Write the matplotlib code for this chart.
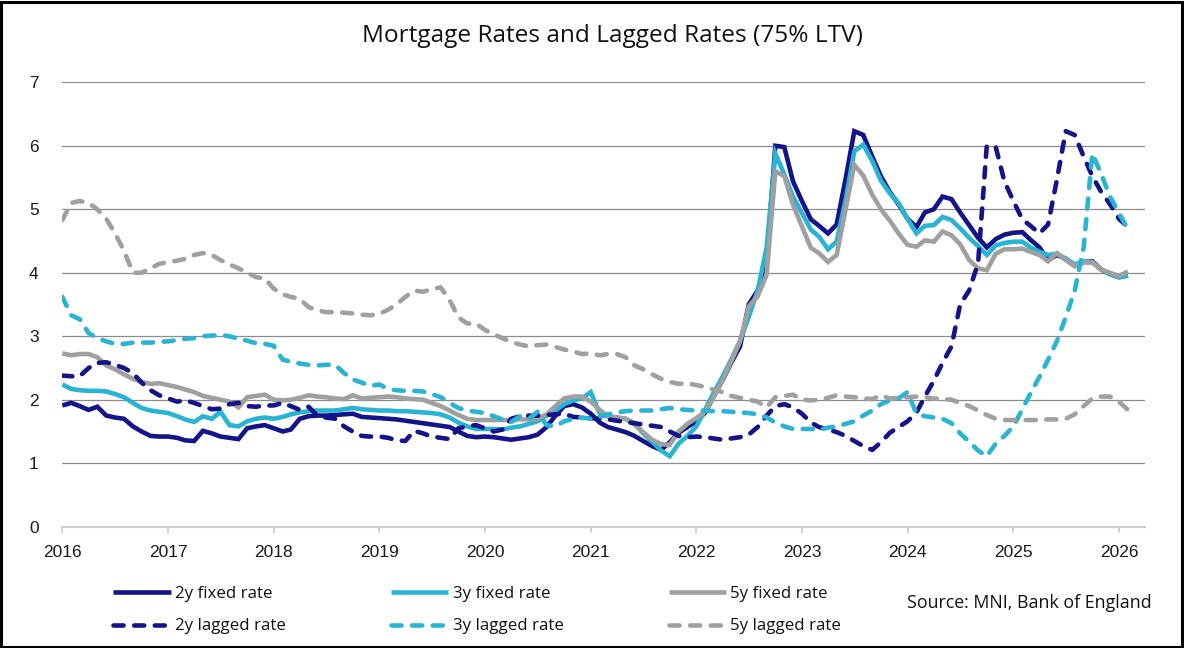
import matplotlib
matplotlib.use("Agg")
import matplotlib.pyplot as plt
import pandas as pd
from matplotlib.patches import Rectangle

# ---------------- data (monthly, Jan 2016 - Feb 2026) ----------------
start_month = "2016-01-01"
n_months = 122

fix2 = [1.91, 1.95, 1.90, 1.84, 1.89, 1.75, 1.72, 1.70, 1.58, 1.50, 1.43, 1.42,
        1.42, 1.40, 1.36, 1.35, 1.51, 1.47, 1.42, 1.40, 1.38, 1.55, 1.58, 1.60,
        1.55, 1.50, 1.53, 1.70, 1.74, 1.75, 1.75, 1.76, 1.77, 1.78, 1.73, 1.72,
        1.71, 1.70, 1.69, 1.67, 1.65, 1.63, 1.61, 1.59, 1.57, 1.50, 1.43, 1.41,
        1.42, 1.41, 1.39, 1.37, 1.39, 1.41, 1.45, 1.57, 1.75, 1.90, 1.93, 1.88,
        1.78, 1.64, 1.57, 1.53, 1.49, 1.43, 1.35, 1.27, 1.21, 1.33, 1.48, 1.57,
        1.66, 1.80, 2.05, 2.30, 2.58, 2.84, 3.50, 3.72, 4.15, 6.00, 5.98, 5.44,
        5.13, 4.84, 4.74, 4.62, 4.76, 5.48, 6.23, 6.17, 5.83, 5.52, 5.27, 5.08,
        4.85, 4.72, 4.95, 5.00, 5.20, 5.16, 4.95, 4.75, 4.55, 4.40, 4.53, 4.60,
        4.63, 4.64, 4.52, 4.40, 4.20, 4.28, 4.22, 4.12, 4.17, 4.18, 4.05, 3.98,
        3.93, 3.96]

fix3 = [2.24, 2.17, 2.15, 2.14, 2.14, 2.13, 2.09, 2.04, 1.95, 1.87, 1.83, 1.81,
        1.79, 1.74, 1.69, 1.65, 1.74, 1.70, 1.81, 1.60, 1.58, 1.66, 1.70, 1.72,
        1.70, 1.73, 1.77, 1.80, 1.82, 1.83, 1.83, 1.83, 1.85, 1.87, 1.85, 1.84,
        1.83, 1.83, 1.82, 1.82, 1.81, 1.80, 1.79, 1.77, 1.72, 1.64, 1.58, 1.54,
        1.54, 1.54, 1.53, 1.56, 1.58, 1.62, 1.66, 1.75, 1.83, 1.93, 1.99, 2.02,
        2.12, 1.78, 1.74, 1.72, 1.70, 1.63, 1.47, 1.34, 1.20, 1.11, 1.31, 1.43,
        1.58, 1.85, 2.10, 2.36, 2.63, 2.93, 3.30, 3.72, 4.40, 5.88, 5.55, 5.20,
        4.94, 4.68, 4.57, 4.37, 4.49, 5.15, 5.91, 6.02, 5.76, 5.45, 5.25, 5.10,
        4.85, 4.62, 4.74, 4.75, 4.88, 4.83, 4.70, 4.55, 4.42, 4.28, 4.43, 4.47,
        4.49, 4.49, 4.40, 4.33, 4.28, 4.30, 4.22, 4.13, 4.18, 4.17, 4.05, 3.98,
        3.93, 3.95]

fix5 = [2.73, 2.70, 2.72, 2.72, 2.67, 2.54, 2.48, 2.40, 2.33, 2.28, 2.25, 2.26,
        2.23, 2.20, 2.16, 2.12, 2.06, 2.03, 2.00, 1.97, 1.88, 2.04, 2.06, 2.08,
        2.00, 1.99, 2.00, 2.03, 2.07, 2.05, 2.04, 2.02, 2.01, 2.07, 2.02, 2.03,
        2.04, 2.05, 2.04, 2.02, 2.01, 2.00, 1.95, 1.90, 1.83, 1.76, 1.70, 1.68,
        1.68, 1.68, 1.68, 1.68, 1.69, 1.69, 1.70, 1.77, 1.90, 2.02, 2.05, 2.05,
        1.97, 1.84, 1.74, 1.72, 1.70, 1.61, 1.49, 1.37, 1.30, 1.29, 1.50, 1.62,
        1.71, 1.82, 2.03, 2.30, 2.60, 2.92, 3.47, 3.63, 3.97, 5.60, 5.52, 5.07,
        4.73, 4.39, 4.31, 4.17, 4.28, 5.00, 5.70, 5.53, 5.23, 5.00, 4.82, 4.62,
        4.44, 4.41, 4.51, 4.49, 4.65, 4.59, 4.45, 4.20, 4.07, 4.04, 4.30, 4.37,
        4.37, 4.38, 4.33, 4.28, 4.18, 4.31, 4.20, 4.10, 4.16, 4.16, 4.05, 4.00,
        3.95, 4.02]

lag2 = [2.38, 2.37, 2.37, 2.50, 2.58, 2.59, 2.55, 2.50, 2.42, 2.27, 2.15, 2.07,
        2.02, 1.97, 1.99, 1.95, 1.90, 1.85, 1.86, 1.93, 1.95, 1.90, 1.89, 1.91,
        1.91, 1.95, 1.90, 1.84, 1.89, 1.75, 1.72, 1.70, 1.58, 1.50, 1.43, 1.42,
        1.42, 1.40, 1.36, 1.35, 1.51, 1.47, 1.42, 1.40, 1.38, 1.55, 1.58, 1.60,
        1.55, 1.50, 1.53, 1.70, 1.74, 1.75, 1.75, 1.76, 1.77, 1.78, 1.73, 1.72,
        1.71, 1.70, 1.69, 1.67, 1.65, 1.63, 1.61, 1.59, 1.57, 1.50, 1.43, 1.41,
        1.42, 1.41, 1.39, 1.37, 1.39, 1.41, 1.45, 1.57, 1.75, 1.90, 1.93, 1.88,
        1.78, 1.64, 1.57, 1.53, 1.49, 1.43, 1.35, 1.27, 1.21, 1.33, 1.48, 1.57,
        1.66, 1.80, 2.05, 2.30, 2.58, 2.84, 3.50, 3.72, 4.15, 6.00, 5.98, 5.44,
        5.13, 4.84, 4.74, 4.62, 4.76, 5.48, 6.23, 6.17, 5.83, 5.52, 5.27, 5.08,
        4.85, 4.72]

lag3 = [3.62, 3.33, 3.27, 3.05, 2.97, 2.92, 2.88, 2.88, 2.90, 2.90, 2.90, 2.91,
        2.92, 2.94, 2.96, 2.97, 3.00, 3.01, 3.02, 3.00, 2.96, 2.93, 2.89, 2.88,
        2.85, 2.63, 2.60, 2.57, 2.55, 2.54, 2.55, 2.55, 2.42, 2.32, 2.27, 2.22,
        2.24, 2.17, 2.15, 2.14, 2.14, 2.13, 2.09, 2.04, 1.95, 1.87, 1.83, 1.81,
        1.79, 1.74, 1.69, 1.65, 1.74, 1.70, 1.81, 1.60, 1.58, 1.66, 1.70, 1.72,
        1.70, 1.73, 1.77, 1.80, 1.82, 1.83, 1.83, 1.83, 1.85, 1.87, 1.85, 1.84,
        1.83, 1.83, 1.82, 1.82, 1.81, 1.80, 1.79, 1.77, 1.72, 1.64, 1.58, 1.54,
        1.54, 1.54, 1.53, 1.56, 1.58, 1.62, 1.66, 1.75, 1.83, 1.93, 1.99, 2.02,
        2.12, 1.78, 1.74, 1.72, 1.70, 1.63, 1.47, 1.34, 1.20, 1.11, 1.31, 1.43,
        1.58, 1.85, 2.10, 2.36, 2.63, 2.93, 3.30, 3.72, 4.40, 5.88, 5.55, 5.20,
        4.94, 4.68]

lag5 = [4.83, 5.10, 5.13, 5.10, 5.00, 4.85, 4.62, 4.35, 4.00, 4.00, 4.07, 4.14,
        4.17, 4.19, 4.22, 4.28, 4.31, 4.28, 4.20, 4.13, 4.07, 4.00, 3.93, 3.91,
        3.75, 3.66, 3.62, 3.59, 3.46, 3.41, 3.38, 3.38, 3.37, 3.36, 3.34, 3.33,
        3.35, 3.42, 3.50, 3.62, 3.72, 3.70, 3.74, 3.77, 3.57, 3.30, 3.20, 3.20,
        3.10, 3.03, 2.97, 2.91, 2.87, 2.84, 2.86, 2.87, 2.83, 2.79, 2.76, 2.72,
        2.73, 2.70, 2.72, 2.72, 2.67, 2.54, 2.48, 2.40, 2.33, 2.28, 2.25, 2.26,
        2.23, 2.20, 2.16, 2.12, 2.06, 2.03, 2.00, 1.97, 1.88, 2.04, 2.06, 2.08,
        2.00, 1.99, 2.00, 2.03, 2.07, 2.05, 2.04, 2.02, 2.01, 2.07, 2.02, 2.03,
        2.04, 2.05, 2.04, 2.02, 2.01, 2.00, 1.95, 1.90, 1.83, 1.76, 1.70, 1.68,
        1.68, 1.68, 1.68, 1.68, 1.69, 1.69, 1.70, 1.77, 1.90, 2.02, 2.05, 2.05,
        1.97, 1.84]

labels = ["2y fixed rate", "3y fixed rate", "5y fixed rate",
          "2y lagged rate", "3y lagged rate", "5y lagged rate"]
year_ticks = list(range(2016, 2027))
y_ticks = list(range(0, 8))

# ---------------- styling ----------------
NAVY = "#13138A"
LBLUE = "#2AB4D4"
GREY = "#A0A0A0"
W, H = 1184, 648
TXT = ["Open Sans", "DejaVu Sans"]

fig = plt.figure(figsize=(W / 100, H / 100), dpi=100)
fig.patch.set_facecolor("white")

x0, x1 = 62.3, 1145
ytop, ybot = 82.3, 526.7
ax = fig.add_axes([x0 / W, 1 - ybot / H, (x1 - x0) / W, (ybot - ytop) / H])

dates = pd.date_range(start_month, periods=n_months, freq="MS")

lw = 3.3
dash = (0, (2.2, 2.3))
series = [
    (fix2, NAVY, "-"), (fix3, LBLUE, "-"), (fix5, GREY, "-"),
    (lag2, NAVY, dash), (lag3, LBLUE, dash), (lag5, GREY, dash),
]
handles = []
for (vals, col, ls), lab in zip(series, labels):
    h, = ax.plot(dates, vals, color=col, lw=lw, ls=ls, label=lab,
                 solid_joinstyle="miter", dash_capstyle="round",
                 solid_capstyle="butt")
    handles.append(h)

ax.set_ylim(0, 7)
ax.set_xlim(pd.Timestamp("2016-01-01"), pd.Timestamp("2026-04-01"))
ax.set_yticks(y_ticks)
ax.set_xticks([pd.Timestamp(f"{y}-01-01") for y in year_ticks])
ax.set_xticklabels([str(y) for y in year_ticks])
ax.grid(axis="y", color="#8C8C8C", lw=0.9)
ax.set_axisbelow(True)
for s in ["left", "right", "top"]:
    ax.spines[s].set_visible(False)
ax.spines["bottom"].set_color("#D0D0D0")
ax.spines["bottom"].set_linewidth(1.6)
ax.spines["bottom"].set_zorder(1)

ax.tick_params(axis="y", length=0, pad=17, labelcolor="#1a1a1a")
ax.tick_params(axis="x", length=4.5, width=1.4, color="#D0D0D0", pad=9,
               labelcolor="#1a1a1a")
for lab in ax.get_xticklabels() + ax.get_yticklabels():
    lab.set_fontfamily(["Liberation Sans", "DejaVu Sans"])
    lab.set_fontsize(12.5)

# title
fig.text(612 / W, 1 - 36 / H, "Mortgage Rates and Lagged Rates (75% LTV)",
         ha="center", va="center", fontsize=17.6, family=TXT, color="#111111")

# legend (column-wise: 2y, 3y, 5y)
order = [0, 3, 1, 4, 2, 5]
leg = fig.legend([handles[i] for i in order], [labels[i] for i in order],
                 ncol=3, loc="center left",
                 bbox_to_anchor=(113 / W, 1 - 610 / H),
                 frameon=False, borderpad=0, borderaxespad=0,
                 handlelength=3.4, handletextpad=0.25, columnspacing=6.2,
                 labelspacing=1.0,
                 prop=dict(family=TXT, size=12.2))
for t in leg.get_texts():
    t.set_color("#111111")

fig.text(1152 / W, 1 - 603 / H, "Source: MNI, Bank of England",
         ha="right", va="center", fontsize=12.8, family=TXT, color="#111111")

# outer border
fig.patches.append(Rectangle((0.001, 0.0015), 0.997, 0.996,
                             transform=fig.transFigure, fill=False,
                             edgecolor="black", lw=2.2))

fig.savefig("out.png", dpi=100)
